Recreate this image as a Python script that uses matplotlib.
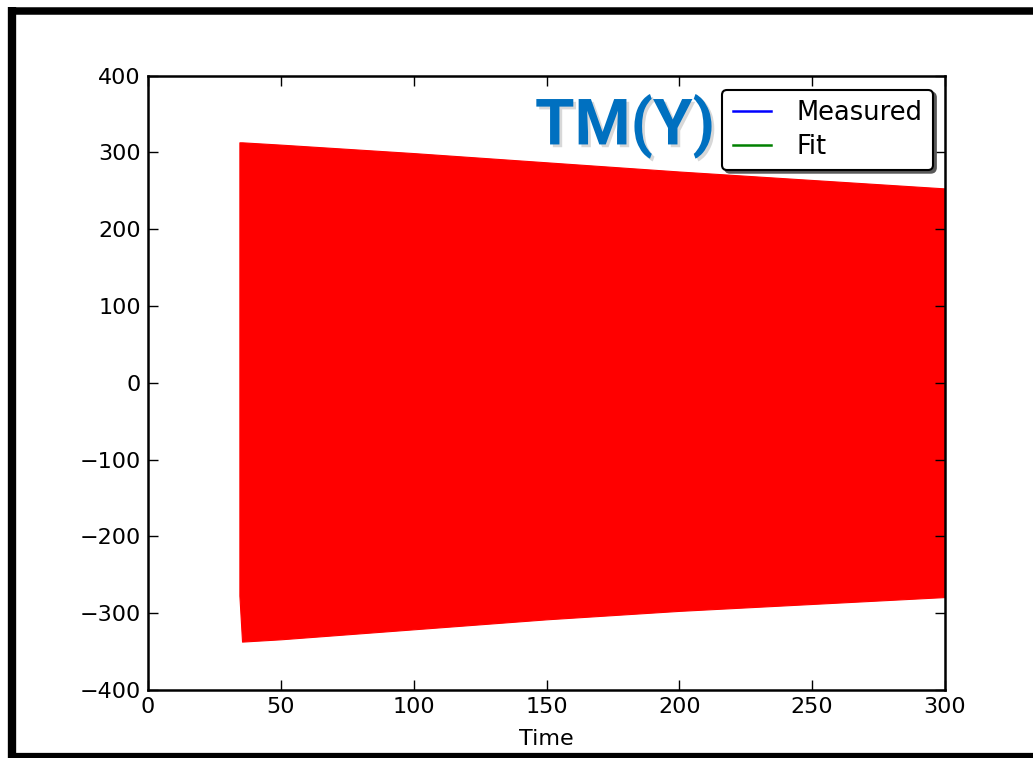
import matplotlib
matplotlib.use("Agg")
import matplotlib.pyplot as plt
import matplotlib.patheffects as pe
from matplotlib.lines import Line2D

# Envelope of the dense oscillation
time = [34.4, 35.4, 50, 100, 150, 200, 250, 300]
upper = [313, 313, 310, 299, 287, 275, 264, 253]
lower = [-277, -337, -334, -321, -308, -297, -288, -279]

legend_labels = ["Measured", "Fit"]
legend_colors = ["blue", "green"]
xticks = [0, 50, 100, 150, 200, 250, 300]
yticks = [-400, -300, -200, -100, 0, 100, 200, 300, 400]

fig = plt.figure(figsize=(10.33, 7.58), dpi=100)
ax = fig.add_axes([148/1033, 1-690/758, (945-148)/1033, (690-75.5)/758])

ax.fill_between(time, lower, upper, color="red", lw=0.8, edgecolor="red")

ax.set_xlim(0, 300)
ax.set_ylim(-400, 400)
ax.set_xticks(xticks)
ax.set_yticks(yticks)
ax.set_yticklabels([f"\u2212{-v}" if v < 0 else str(v) for v in yticks])
ax.tick_params(direction="in", length=7, width=1, top=True, right=True,
               labelsize=16, pad=5)
for s in ax.spines.values():
    s.set_linewidth(1.8)
ax.set_xlabel("Time", fontsize=16, labelpad=9)

handles = [Line2D([], [], color=c, lw=1.8) for c in legend_colors]
leg = ax.legend(handles, legend_labels, loc="upper right",
                bbox_to_anchor=(0.985, 0.977), fontsize=18.5,
                fancybox=True, shadow={"color": "0.35", "alpha": 1},
                framealpha=1,
                handlelength=1.5, handletextpad=1.0, borderpad=0.4,
                labelspacing=0.3, borderaxespad=0)
leg.get_frame().set_edgecolor("black")
leg.get_frame().set_linewidth(1.5)

fig.text(625/1033, 1-126/758, "TM(Y)", fontsize=46, fontweight="bold",
         family=["Roboto", "DejaVu Sans"], color="#0070C0",
         ha="center", va="center",
         path_effects=[pe.withSimplePatchShadow(offset=(2, -2),
                                                shadow_rgbFace="gray",
                                                alpha=0.3)])

# Slide-like black frame (left, top and bottom edges)
fig.add_artist(Line2D([12/1033, 12/1033], [0, 1-7/758], color="black",
                      lw=6, transform=fig.transFigure, solid_capstyle="butt"))
fig.add_artist(Line2D([8/1033, 1], [1-10.5/758, 1-10.5/758], color="black",
                      lw=5.4, transform=fig.transFigure, solid_capstyle="butt"))
fig.add_artist(Line2D([8/1033, 1], [2.5/758, 2.5/758], color="black",
                      lw=4.5, transform=fig.transFigure, solid_capstyle="butt"))

fig.savefig("out.png", dpi=100)
